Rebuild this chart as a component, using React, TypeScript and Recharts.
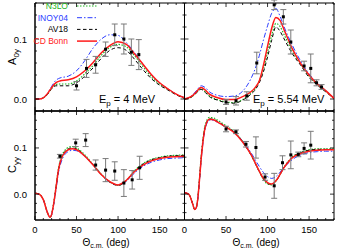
import React from "react";
import {
  ComposedChart,
  Line,
  Scatter,
  ErrorBar,
  XAxis,
  YAxis,
  ReferenceArea,
  Legend,
} from "recharts";

const W = 338;
const H = 252;
const YW = 30;
const XH = 20;
const FONT = "'Liberation Sans', Arial, sans-serif";

// ---- A0y, Ep = 4 MeV ----
const angA = [0, 5, 10, 15, 20, 25, 30, 40, 50, 60, 70, 80, 90, 100, 110, 120, 130, 140, 150, 160, 170, 180];
const n3loA = [0, 0, 0.002, 0.008, 0.018, 0.024, 0.025, 0.025, 0.03, 0.042, 0.056, 0.073, 0.086, 0.091, 0.087, 0.072, 0.054, 0.037, 0.025, 0.016, 0.008, 0.002];
const inoyA = [0, 0, 0.002, 0.009, 0.021, 0.031, 0.035, 0.038, 0.047, 0.064, 0.085, 0.1, 0.107, 0.106, 0.094, 0.077, 0.058, 0.04, 0.027, 0.017, 0.008, 0.002];
const av18A = [0, 0, 0.002, 0.008, 0.017, 0.022, 0.022, 0.022, 0.027, 0.038, 0.052, 0.068, 0.081, 0.0855, 0.081, 0.066, 0.049, 0.034, 0.023, 0.015, 0.007, 0.001];
const cdbA = [0, 0, 0.002, 0.009, 0.019, 0.027, 0.03, 0.032, 0.037, 0.047, 0.061, 0.077, 0.089, 0.0955, 0.091, 0.075, 0.058, 0.041, 0.027, 0.017, 0.008, 0.002];
const expAngA = [50, 62, 73, 85, 96, 107, 116, 125];
const expValA = [0.022, 0.051, 0.057, 0.083, 0.107, 0.1, 0.078, 0.074];
const expErrA = [0.007, 0.015, 0.014, 0.012, 0.018, 0.025, 0.022, 0.025];

// ---- A0y, Ep = 5.54 MeV ----
const angB = [0, 5, 10, 15, 20, 25, 30, 40, 50, 60, 70, 80, 85, 90, 95, 100, 105, 110, 115, 120, 130, 140, 150, 160, 170, 180];
const n3loB = [0, 0.001, 0.005, 0.012, 0.017, 0.012, 0.005, -0.001, -0.005, -0.006, -0.001, 0.01, 0.017, 0.03, 0.05, 0.078, 0.106, 0.126, 0.121, 0.107, 0.079, 0.058, 0.038, 0.024, 0.013, 0.001];
const inoyB = [0, 0.002, 0.007, 0.015, 0.022, 0.019, 0.012, 0.006, 0.004, 0.005, 0.013, 0.034, 0.05, 0.072, 0.098, 0.122, 0.143, 0.151, 0.138, 0.12, 0.089, 0.063, 0.042, 0.026, 0.014, 0.002];
const av18B = [0, 0.001, 0.005, 0.011, 0.016, 0.011, 0.004, -0.002, -0.006, -0.007, -0.002, 0.008, 0.015, 0.027, 0.045, 0.07, 0.098, 0.12, 0.113, 0.1, 0.075, 0.056, 0.036, 0.023, 0.012, 0.001];
const cdbB = [0, 0.002, 0.006, 0.013, 0.019, 0.015, 0.008, 0.002, -0.001, -0.001, 0.004, 0.012, 0.019, 0.03, 0.056, 0.088, 0.118, 0.136, 0.131, 0.115, 0.083, 0.059, 0.04, 0.025, 0.014, 0.001];
const expAngB = [50, 62, 75, 87, 108, 119, 128, 144, 152, 159, 165];
const expValB = [-0.005, -0.003, 0.005, 0.06, 0.157, 0.137, 0.095, 0.055, 0.051, 0.027, 0.02];
const expErrB = [0.004, 0.007, 0.007, 0.018, 0.008, 0.012, 0.02, 0.008, 0.024, 0.005, 0.004];

// ---- Cyy, Ep = 4 MeV ----
const angC = [0, 5, 10, 15, 18, 20, 22, 25, 28, 32, 36, 40, 45, 50, 60, 70, 80, 90, 100, 110, 120, 130, 140, 150, 160, 170, 180];
const n3loC = [0.002, 0, -0.012, -0.04, -0.05, -0.044, -0.025, 0.012, 0.053, 0.082, 0.095, 0.101, 0.103, 0.1, 0.085, 0.064, 0.043, 0.027, 0.019, 0.03, 0.051, 0.066, 0.075, 0.08, 0.083, 0.084, 0.085];
const inoyC = [0.002, 0, -0.012, -0.04, -0.05, -0.045, -0.028, 0.006, 0.044, 0.072, 0.086, 0.092, 0.095, 0.094, 0.082, 0.063, 0.042, 0.026, 0.02, 0.028, 0.046, 0.06, 0.069, 0.074, 0.077, 0.078, 0.079];
const av18C = [0.002, 0, -0.012, -0.04, -0.05, -0.044, -0.026, 0.01, 0.05, 0.079, 0.092, 0.098, 0.1, 0.098, 0.083, 0.063, 0.042, 0.026, 0.019, 0.029, 0.05, 0.065, 0.074, 0.079, 0.082, 0.083, 0.084];
const cdbC = [0.002, 0, -0.012, -0.04, -0.05, -0.044, -0.026, 0.01, 0.05, 0.078, 0.09, 0.096, 0.098, 0.096, 0.082, 0.063, 0.042, 0.027, 0.02, 0.03, 0.049, 0.063, 0.072, 0.077, 0.08, 0.081, 0.082];
const expAngC = [30, 49, 61, 73, 85, 96, 107, 117, 126];
const expValC = [0.082, 0.111, 0.117, 0.063, 0.052, 0.05, 0.024, 0.031, 0.057];
const expErrC = [0.004, 0.008, 0.014, 0.011, 0.025, 0.02, 0.029, 0.02, 0.025];

// ---- Cyy, Ep = 5.54 MeV ----
const angD = [0, 5, 10, 12, 14, 16, 18, 20, 22, 25, 30, 35, 40, 50, 60, 70, 80, 90, 95, 100, 105, 110, 120, 130, 140, 150, 160, 170, 180];
const n3loD = [0.003, 0, -0.022, -0.033, -0.03, -0.009, 0.033, 0.08, 0.115, 0.15, 0.166, 0.165, 0.16, 0.148, 0.135, 0.114, 0.086, 0.049, 0.032, 0.022, 0.02, 0.028, 0.059, 0.081, 0.091, 0.096, 0.098, 0.098, 0.098];
const inoyD = [0.003, 0, -0.022, -0.033, -0.03, -0.011, 0.028, 0.072, 0.107, 0.142, 0.16, 0.16, 0.155, 0.145, 0.134, 0.115, 0.09, 0.06, 0.047, 0.038, 0.034, 0.038, 0.058, 0.075, 0.085, 0.09, 0.092, 0.093, 0.093];
const av18D = [0.003, 0, -0.022, -0.033, -0.03, -0.01, 0.031, 0.077, 0.112, 0.147, 0.163, 0.162, 0.157, 0.146, 0.134, 0.113, 0.085, 0.049, 0.033, 0.023, 0.021, 0.028, 0.058, 0.08, 0.09, 0.095, 0.097, 0.097, 0.097];
const cdbD = [0.003, 0, -0.022, -0.033, -0.03, -0.01, 0.03, 0.075, 0.11, 0.145, 0.162, 0.161, 0.156, 0.145, 0.133, 0.113, 0.086, 0.05, 0.034, 0.025, 0.022, 0.029, 0.058, 0.079, 0.088, 0.093, 0.095, 0.096, 0.096];
const expAngD = [50, 62, 74, 86, 97, 108, 118, 128, 137, 144, 152];
const expValD = [0.141, 0.135, 0.108, 0.101, 0.037, 0.018, 0.068, 0.085, 0.086, 0.099, 0.106];
const expErrD = [0.006, 0.004, 0.006, 0.023, 0.007, 0.027, 0.015, 0.03, 0.005, 0.012, 0.03];

const X_TICKS = [0, 10, 20, 30, 40, 50, 60, 70, 80, 90, 100, 110, 120, 130, 140, 150, 160, 170, 180];
const Y_TICKS_TOP = [-0.02, 0, 0.02, 0.04, 0.06, 0.08, 0.1, 0.12, 0.14, 0.16];
const Y_TICKS_BOT = [-0.04, -0.02, 0, 0.02, 0.04, 0.06, 0.08, 0.1, 0.12, 0.14, 0.16];

const MODELS = [
  { name: "N3LO", color: "#22b622", dash: "1.5 1.5", width: 1.2 },
  { name: "INOY04", color: "#2b3cff", dash: "5 2 1.5 2", width: 1 },
  { name: "AV18", color: "#000000", dash: "3.5 2.5", width: 1 },
  { name: "CD Bonn", color: "#ff1a1a", dash: undefined, width: 1.5 },
];

function rows(angles: number[], vals: number[]) {
  return angles.map((a, i) => ({ x: a, y: vals[i] }));
}

function points(angles: number[], vals: number[], errs: number[]) {
  return angles.map((a, i) => ({ x: a, y: vals[i], err: errs[i] }));
}

function xTick(plotH: number, showLabel: boolean) {
  return (p: any) => {
    const v = p.payload.value;
    const major = v % 50 === 0;
    const len = major ? 4 : 2;
    return (
      <g>
        <line x1={p.x} y1={p.y} x2={p.x} y2={p.y - len} stroke="#000" strokeWidth={0.8} />
        <line x1={p.x} y1={p.y - plotH} x2={p.x} y2={p.y - plotH + len} stroke="#000" strokeWidth={0.8} />
        {showLabel && major && v < 180 ? (
          <text x={p.x} y={p.y + 13} textAnchor="middle" fontSize={9.5} fontFamily={FONT} fill="#000">
            {v}
          </text>
        ) : null}
      </g>
    );
  };
}

function yTick(plotW: number, showLabel: boolean) {
  return (p: any) => {
    const v = p.payload.value;
    const major = Math.abs(v) < 1e-6 || Math.abs(v - 0.1) < 1e-6;
    const len = major ? 4 : 2;
    return (
      <g>
        <line x1={p.x} y1={p.y} x2={p.x + len} y2={p.y} stroke="#000" strokeWidth={0.8} />
        <line x1={p.x + plotW} y1={p.y} x2={p.x + plotW - len} y2={p.y} stroke="#000" strokeWidth={0.8} />
        {showLabel && major ? (
          <text x={p.x - 8} y={p.y + 3.5} textAnchor="end" fontSize={9.5} fontFamily={FONT} fill="#000">
            {v.toFixed(1)}
          </text>
        ) : null}
      </g>
    );
  };
}

function LegendBox() {
  return (
    <svg width={110} height={50} style={{ display: "block" }}>
      {MODELS.map((m, i) => {
        const cy = 6 + i * 11.7;
        return (
          <g key={m.name}>
            <text x={68} y={cy + 3} textAnchor="end" fontSize={8.5} fontFamily={FONT} fill={m.color}>
              {m.name}
            </text>
            <line x1={77} x2={97} y1={cy} y2={cy} stroke={m.color} strokeWidth={m.width} strokeDasharray={m.dash} />
          </g>
        );
      })}
    </svg>
  );
}

type PanelProps = {
  x0: number;
  y0: number;
  w: number;
  h: number;
  yDomain: [number, number];
  yTicks: number[];
  angles: number[];
  curves: number[][];
  expAng: number[];
  expVal: number[];
  expErr: number[];
  xLabels: boolean;
  yLabels: boolean;
  legend?: boolean;
};

function Panel(props: PanelProps) {
  const { x0, y0, w, h, yDomain, yTicks, angles, curves, expAng, expVal, expErr, xLabels, yLabels, legend } = props;
  const margin = {
    top: y0,
    left: x0 - YW,
    right: W - x0 - w,
    bottom: H - y0 - h - XH,
  };
  return (
    <div style={{ position: "absolute", left: 0, top: 0 }}>
      <ComposedChart width={W} height={H} margin={margin}>
        <XAxis
          dataKey="x"
          type="number"
          domain={[0, 180]}
          ticks={X_TICKS}
          interval={0}
          allowDataOverflow
          height={XH}
          tickSize={0}
          tickMargin={0}
          tickLine={false}
          axisLine={{ stroke: "#000" }}
          tick={xTick(h, xLabels)}
        />
        <YAxis
          type="number"
          domain={yDomain}
          ticks={yTicks}
          interval={0}
          allowDataOverflow
          width={YW}
          tickSize={0}
          tickMargin={0}
          tickLine={false}
          axisLine={{ stroke: "#000" }}
          tick={yTick(w, yLabels)}
        />
        <ReferenceArea x1={0} x2={180} y1={yDomain[0]} y2={yDomain[1]} fill="none" stroke="#000" strokeWidth={1} />
        {MODELS.map((m, i) => (
          <Line
            key={m.name}
            name={m.name}
            data={rows(angles, curves[i])}
            dataKey="y"
            type="monotone"
            stroke={m.color}
            strokeWidth={m.width}
            strokeDasharray={m.dash}
            dot={false}
            activeDot={false}
            isAnimationActive={false}
          />
        ))}
        <Scatter
          data={points(expAng, expVal, expErr)}
          dataKey="y"
          isAnimationActive={false}
          shape={(p: any) => <rect x={p.cx - 1.5} y={p.cy - 1.5} width={3} height={3} fill="#000" />}
        >
          <ErrorBar dataKey="err" direction="y" width={3} stroke="#7a7a7a" strokeWidth={1} isAnimationActive={false} />
        </Scatter>
        {legend ? (
          <Legend
            layout="vertical"
            align="center"
            verticalAlign="middle"
            wrapperStyle={{ left: 0, top: 0, width: 110, height: 50 }}
            content={() => <LegendBox />}
          />
        ) : null}
      </ComposedChart>
    </div>
  );
}

export default function App() {
  return (
    <div
      style={{
        position: "fixed",
        left: 0,
        top: 0,
        width: W,
        height: H,
        background: "#fff",
        fontFamily: FONT,
      }}
    >
      <Panel
        x0={35}
        y0={3}
        w={149.5}
        h={108}
        yDomain={[-0.02, 0.16]}
        yTicks={Y_TICKS_TOP}
        angles={angA}
        curves={[n3loA, inoyA, av18A, cdbA]}
        expAng={expAngA}
        expVal={expValA}
        expErr={expErrA}
        xLabels={false}
        yLabels={true}
        legend
      />
      <Panel
        x0={184.5}
        y0={3}
        w={149.5}
        h={108}
        yDomain={[-0.02, 0.16]}
        yTicks={Y_TICKS_TOP}
        angles={angB}
        curves={[n3loB, inoyB, av18B, cdbB]}
        expAng={expAngB}
        expVal={expValB}
        expErr={expErrB}
        xLabels={false}
        yLabels={false}
      />
      <Panel
        x0={35}
        y0={111}
        w={149.5}
        h={109}
        yDomain={[-0.056, 0.18]}
        yTicks={Y_TICKS_BOT}
        angles={angC}
        curves={[n3loC, inoyC, av18C, cdbC]}
        expAng={expAngC}
        expVal={expValC}
        expErr={expErrC}
        xLabels={true}
        yLabels={true}
      />
      <Panel
        x0={184.5}
        y0={111}
        w={149.5}
        h={109}
        yDomain={[-0.056, 0.18]}
        yTicks={Y_TICKS_BOT}
        angles={angD}
        curves={[n3loD, inoyD, av18D, cdbD]}
        expAng={expAngD}
        expVal={expValD}
        expErr={expErrD}
        xLabels={true}
        yLabels={false}
      />
      <svg
        width={W}
        height={H}
        style={{ position: "absolute", left: 0, top: 0, pointerEvents: "none" }}
        fontFamily={FONT}
      >
        <text x={99} y={103} fontSize={11} fill="#000">
          E<tspan fontSize={8} dy={2.5}>p</tspan>
          <tspan dy={-2.5}> = 4 MeV</tspan>
        </text>
        <text x={253} y={103} fontSize={11} fill="#000">
          E<tspan fontSize={8} dy={2.5}>p</tspan>
          <tspan dy={-2.5}> = 5.54 MeV</tspan>
        </text>
        <text x={16} y={57} fontSize={11} fill="#000" textAnchor="middle" transform="rotate(-90 16 57)">
          A<tspan fontSize={8} dy={2.5}>0y</tspan>
        </text>
        <text x={16} y={165} fontSize={11} fill="#000" textAnchor="middle" transform="rotate(-90 16 165)">
          C<tspan fontSize={8} dy={2.5}>yy</tspan>
        </text>
        <text x={106} y={246} fontSize={10} fill="#000" textAnchor="middle">
          Θ<tspan fontSize={7} dy={2}>c.m.</tspan>
          <tspan dy={-2}> (deg)</tspan>
        </text>
        <text x={256} y={246} fontSize={10} fill="#000" textAnchor="middle">
          Θ<tspan fontSize={7} dy={2}>c.m.</tspan>
          <tspan dy={-2}> (deg)</tspan>
        </text>
      </svg>
    </div>
  );
}
